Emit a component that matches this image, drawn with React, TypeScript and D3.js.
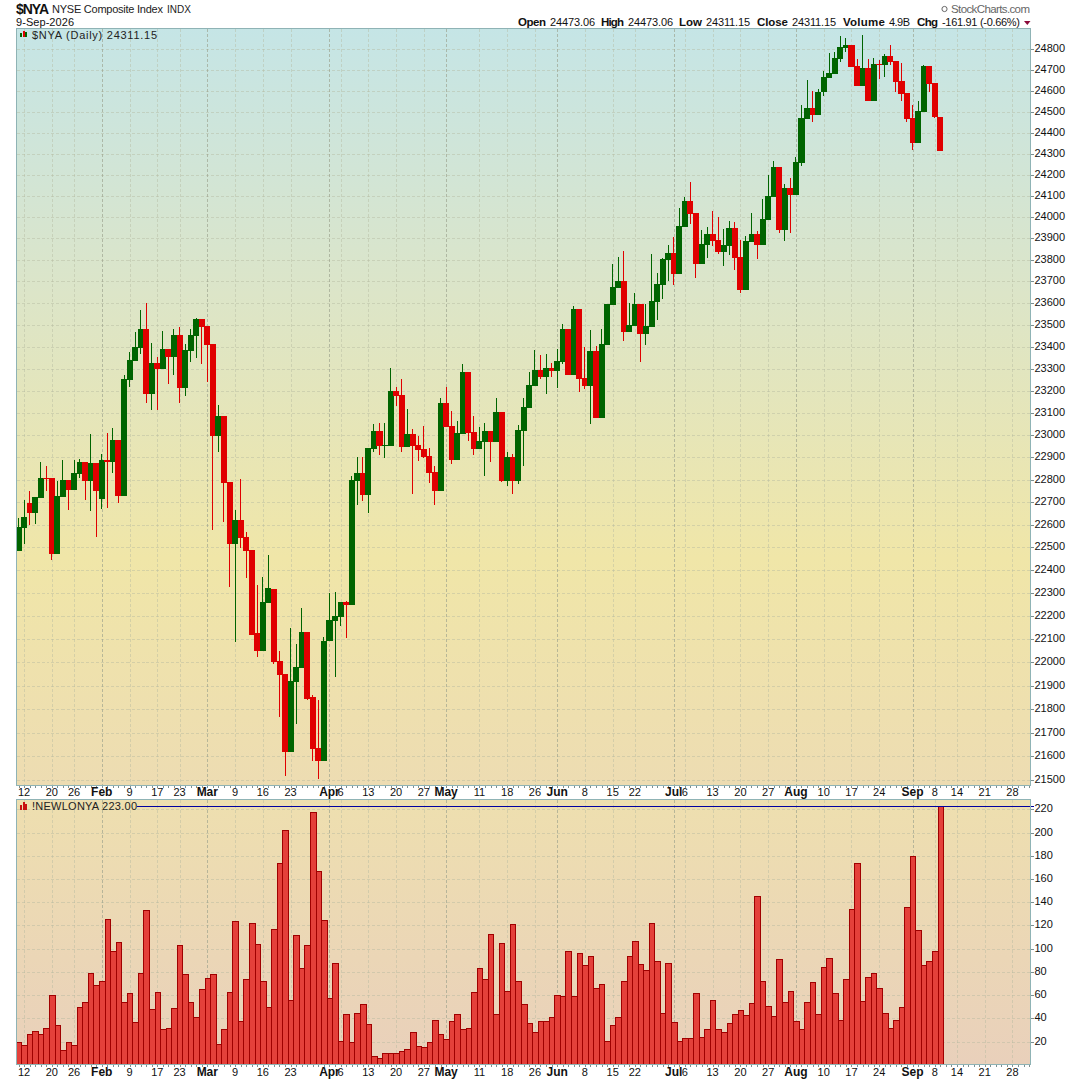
import React from "react";
import * as d3 from "d3";

const opens = [22482,22587,22697,22652,22719,22808,22808,22472,22724,22800,
22755,22826,22880,22795,22875,22715,22888,22880,22977,22728,
23250,23336,23395,23481,23186,23327,23300,23390,23354,23454,
23213,23381,23450,23527,23495,23413,22995,23084,22790,22514,
22621,22546,22489,22125,22051,22257,22317,22004,21948,21618,
21914,21974,22133,21850,21635,21579,22090,22180,22197,22261,
22249,22795,22830,22732,22937,23018,22950,22950,23200,23182,
22946,23005,22955,22937,22906,22835,22750,23145,23041,22888,
23005,23286,23014,22937,22968,23018,22968,23104,22795,22902,
22795,23018,23122,23222,23295,23263,23304,23290,23331,23481,
23272,23574,23258,23222,23381,23077,23409,23592,23671,23704,
23468,23495,23597,23459,23490,23606,23685,23801,23834,23736,
23954,24077,24020,23782,23871,23922,23894,23838,23866,23950,
23815,23662,23885,23922,23871,23987,24096,24234,23940,24139,
24105,24253,24463,24515,24482,24592,24663,24682,24754,24806,
24820,24720,24625,24711,24549,24730,24725,24768,24744,24649,
24587,24468,24349,24496,24720,24639,24473.06];
const highs = [22630,22710,22750,22724,22880,22862,22808,22795,22888,22800,
22888,22893,22880,23004,22875,22915,23008,23031,22977,23272,
23377,23468,23568,23600,23418,23354,23472,23390,23481,23490,
23413,23481,23531,23527,23495,23413,23136,23084,22790,22666,
22804,22568,22489,22334,22369,22467,22317,22051,21948,22150,
22077,22236,22133,21862,21837,22111,22300,22304,22261,22266,
22817,22902,22902,22942,23050,23055,23055,23304,23218,23254,
23118,23027,22995,23041,22942,22862,23168,23218,23109,23064,
23322,23286,23086,23036,23055,23018,23168,23104,22924,22915,
23045,23168,23286,23386,23363,23368,23327,23390,23504,23481,
23588,23574,23399,23477,23404,23481,23597,23783,23815,23843,
23601,23648,23597,23597,23829,23741,23810,23871,23908,24042,
24096,24163,24020,23940,23954,24030,24000,23945,23982,23977,
23894,23912,24020,23936,24086,24196,24263,24234,24158,24186,
24282,24530,24654,24601,24606,24697,24782,24787,24863,24854,
24820,24754,24868,24754,24758,24749,24778,24820,24744,24735,
24587,24530,24549,24725,24720,24639,24473.06];
const lows = [22482,22515,22600,22604,22719,22750,22446,22472,22724,22666,
22755,22808,22710,22661,22545,22670,22675,22830,22697,22728,
23218,23336,23368,23145,23110,23114,23300,23232,23272,23145,
23177,23332,23350,23322,23241,22577,22924,22612,22326,22089,
22497,22364,22116,22021,22051,22257,21991,21768,21515,21618,
21738,21974,21837,21579,21506,21579,22090,21936,22158,22103,
22249,22688,22706,22652,22924,22911,22897,22950,23132,22924,
22946,22737,22884,22897,22786,22688,22750,23036,22870,22888,
23005,22973,22911,22937,22817,22879,22968,22790,22773,22737,
22782,22862,23122,23222,23254,23186,23263,23213,23322,23272,
23272,23195,23209,23050,23077,23077,23409,23592,23671,23427,
23468,23495,23332,23409,23490,23523,23620,23704,23685,23736,
23954,23968,23718,23782,23810,23866,23829,23773,23825,23755,
23648,23662,23885,23806,23871,23987,24096,23926,23890,23926,
24105,24239,24463,24449,24482,24573,24663,24682,24739,24787,
24716,24625,24625,24549,24549,24658,24668,24725,24596,24549,
24449,24315,24349,24496,24592,24468,24311.15];
const closes = [22590,22635,22652,22724,22808,22804,22472,22728,22800,22755,
22830,22880,22795,22875,22750,22888,22880,22977,22728,23254,
23341,23400,23481,23186,23327,23300,23390,23354,23454,23213,
23386,23454,23527,23490,23409,22995,23084,22786,22514,22621,
22541,22485,22120,22051,22261,22322,22000,21944,21618,21918,
21978,22133,21845,21631,21579,22094,22184,22201,22261,22249,
22800,22830,22732,22942,23018,22950,22955,23200,23177,22946,
23005,22950,22933,22902,22830,22750,23145,23036,22888,23009,
23286,23009,22937,22973,23018,22968,23104,22795,22902,22795,
23022,23127,23227,23295,23263,23304,23290,23336,23481,23272,
23574,23254,23222,23381,23077,23413,23597,23676,23704,23468,
23500,23597,23459,23495,23611,23690,23806,23834,23736,23959,
24077,24015,23782,23875,23922,23889,23838,23871,23950,23811,
23662,23889,23922,23871,23992,24101,24234,23940,24139,24105,
24258,24468,24515,24482,24596,24668,24687,24758,24811,24820,
24716,24625,24711,24549,24730,24725,24768,24739,24644,24582,
24463,24349,24501,24720,24634,24473,24311.15];
const newHighs = [20,17,27,29,27,32,60,34,13,20,
17,50,54,79,69,72,126,98,106,54,
62,37,79,133,48,63,31,32,49,103,
78,54,41,65,75,78,18,31,63,124,
38,74,122,104,72,50,117,174,202,56,
112,83,103,218,167,125,58,88,21,44,
20,45,52,35,8,6,10,10,10,12,
14,28,16,15,20,39,27,22,38,44,
31,32,63,83,74,113,44,105,64,121,
72,52,36,28,38,38,41,60,59,98,
59,96,86,94,66,70,21,34,41,72,
94,107,87,82,122,89,45,88,37,21,
23,23,62,24,31,56,31,28,36,44,
47,43,53,145,72,51,42,91,54,64,
38,31,54,71,44,84,92,62,39,74,
134,174,55,76,79,66,45,32,39,50,
136,180,116,86,89,98,223];

// session index and label of every date tick; capitalised = first session of a month
const tickIndex = [1,6,10,15,20,25,29,34,39,44,49,56,58,63,68,73,77,83,88,93,97,102,107,111,118,120,125,130,135,140,145,150,155,161,165,169,174,179];
const tickLabel = ["12","20","26","Feb","9","17","23","Mar","9","16","23","Apr","6","13","20","27","May","11","18","26","Jun","8","15","22","Jul","6","13","20","27","Aug","10","17","24","Sep","8","14","21","28"];
const priceTicks = d3.range(21500, 24801, 100);
const countTicks = d3.range(20, 221, 20);
const lastCount = 223;

const quoteLabels = ["Open", "High", "Low", "Close", "Volume", "Chg"];
const quoteValues = ["24473.06", "24473.06", "24311.15", "24311.15", "4.9B", "-161.91 (-0.66%)"];

const FONT = "'Liberation Sans', Arial, sans-serif";
const L = 16.5, R = 1030.5, T1 = 28.5, B1 = 785.5, T2 = 799.5, B2 = 1064.5;
const UP = "#006400", DOWN = "#e00000", GRID = "#b3b7a0", BORDER = "#8fb3b5";

const x = d3.scaleLinear().domain([0, 166]).range([18.5, 940.3]);
const yP = d3.scaleLog().domain([24800, 21500]).range([49.3, 780]);
const yN = d3.scaleLinear().domain([0, 220]).range([1064.9, 809.3]);
const half = (x(1) - x(0)) / 2;

// header slots: [label left, label right, value left, value right]
const quoteSlots = [
  [518, 546, 550, 595],
  [601, 624, 628, 673],
  [679, 702, 706, 750],
  [757, 788, 792, 836],
  [843, 885, 889, 910],
  [917, 938, 942, 1020],
];

function Grid({ top, bottom, ys }: { top: number; bottom: number; ys: number[] }) {
  return (
    <g shapeRendering="crispEdges" fill="none">
      {ys.map((y, i) => (
        <line key={i} x1={L} x2={R} y1={Math.round(y) + 0.5} y2={Math.round(y) + 0.5} stroke={GRID} strokeOpacity={0.45} strokeDasharray="3 2" />
      ))}
      {tickIndex.map((t, i) => {
        const major = /[A-Z]/.test(tickLabel[i]);
        return (
          <line key={i} x1={Math.round(x(t)) + 0.5} x2={Math.round(x(t)) + 0.5} y1={top} y2={bottom}
            stroke={major ? "#9aa08c" : GRID} strokeOpacity={major ? 0.65 : 0.45} strokeDasharray="3 2" />
        );
      })}
    </g>
  );
}

function DateAxis({ y, base }: { y: number; base: number }) {
  return (
    <g>
      <g shapeRendering="crispEdges" stroke="#7d8f90">
        {d3.range(0, 183).map((d) => (
          <line key={d} x1={Math.round(x(d)) + 0.5} x2={Math.round(x(d)) + 0.5} y1={y} y2={y + 2} />
        ))}
      </g>
      {tickIndex.map((t, i) => {
        const major = /[A-Z]/.test(tickLabel[i]);
        return (
          <text key={i} x={x(t)} y={base} textAnchor="middle" fontFamily={FONT}
            fontSize={major ? 12 : 11} fontWeight={major ? 700 : 400} fill="#111">{tickLabel[i]}</text>
        );
      })}
    </g>
  );
}

export default function App() {
  return (
    <svg width={1080} height={1080} viewBox="0 0 1080 1080" style={{ position: "absolute", left: 0, top: 0, background: "#fff" }}>
      <defs>
        <linearGradient id="g1" x1="0" y1="0" x2="0" y2="1">
          <stop offset="0" stopColor="#c5e5e6" />
          <stop offset="0.35" stopColor="#dce5c8" />
          <stop offset="0.7" stopColor="#f0e6a8" />
          <stop offset="1" stopColor="#eddcb2" />
        </linearGradient>
        <linearGradient id="g2" x1="0" y1="0" x2="0" y2="1">
          <stop offset="0" stopColor="#eedfaf" />
          <stop offset="1" stopColor="#e9d0bb" />
        </linearGradient>
        <clipPath id="c1"><rect x={L} y={T1} width={R - L} height={B1 - T1} /></clipPath>
        <clipPath id="c2"><rect x={L} y={T2} width={R - L} height={B2 - T2} /></clipPath>
      </defs>

      {/* header */}
      <text x={16} y={14} fontFamily={FONT} fontSize={14} fontWeight={700} fill="#111" textLength={33}>$NYA</text>
      <text x={52} y={13} fontFamily={FONT} fontSize={11} fill="#222" textLength={111}>NYSE Composite Index</text>
      <text x={167} y={13} fontFamily={FONT} fontSize={10} fill="#222" textLength={24}>INDX</text>
      <text x={16} y={26} fontFamily={FONT} fontSize={11} fill="#111" textLength={58}>9-Sep-2026</text>
      <circle cx={944.5} cy={9} r={2.6} fill="none" stroke="#666" strokeWidth={1} />
      <text x={951} y={13} fontFamily={FONT} fontSize={11.5} fill="#666" textLength={79}>StockCharts.com</text>
      {quoteLabels.map((q, i) => (
        <g key={q} fontFamily={FONT} fill="#111">
          <text x={quoteSlots[i][0]} y={26} fontSize={11.5} fontWeight={700} textLength={quoteSlots[i][1] - quoteSlots[i][0]}>{q}</text>
          <text x={quoteSlots[i][2]} y={26} fontSize={11} textLength={quoteSlots[i][3] - quoteSlots[i][2]}>{quoteValues[i]}</text>
        </g>
      ))}
      <path d="M1024 21h6.5l-3.2 4z" fill="#8b0a3a" />

      {/* price panel */}
      <rect x={L} y={T1} width={R - L} height={B1 - T1} fill="url(#g1)" />
      <Grid top={T1} bottom={B1} ys={priceTicks.map((v) => yP(v))} />
      <g clipPath="url(#c1)" shapeRendering="crispEdges">
        {closes.map((c, i) => {
          const color = c >= opens[i] ? UP : DOWN;
          const cx = x(i);
          const top = Math.round(yP(Math.max(c, opens[i])));
          const bot = Math.round(yP(Math.min(c, opens[i])));
          const l = Math.round(cx - half - 0.2);
          const r = Math.round(cx + half + 0.3);
          return (
            <g key={i} fill={color}>
              <rect x={Math.floor(cx)} y={yP(highs[i])} width={1} height={yP(lows[i]) - yP(highs[i])} />
              <rect x={l} y={top} width={r - l} height={Math.max(1, bot - top)} />
            </g>
          );
        })}
      </g>
      <rect x={L} y={T1} width={R - L} height={B1 - T1} fill="none" stroke={BORDER} shapeRendering="crispEdges" />
      <g shapeRendering="crispEdges" fill={UP}>
        <rect x={20} y={33} width={2} height={4} /><rect x={25} y={32} width={2} height={5} />
      </g>
      <rect x={22.5} y={31} width={2} height={6} fill={DOWN} shapeRendering="crispEdges" />
      <text x={32} y={39} fontFamily={FONT} fontSize={11} fill="#222" textLength={125}>$NYA (Daily) 24311.15</text>
      <g fontFamily={FONT} fontSize={11} fill="#111">
        {priceTicks.map((v) => (
          <text key={v} x={1034.5} y={yP(v) + 3}>{v}</text>
        ))}
      </g>
      <g shapeRendering="crispEdges" stroke="#7d8f90">
        {priceTicks.map((v) => (
          <line key={v} x1={R} x2={R + 3} y1={Math.round(yP(v)) + 0.5} y2={Math.round(yP(v)) + 0.5} />
        ))}
      </g>
      <DateAxis y={B1} base={796} />

      {/* new highs panel */}
      <rect x={L} y={T2} width={R - L} height={B2 - T2} fill="url(#g2)" />
      <Grid top={T2} bottom={B2} ys={countTicks.map((v) => yN(v))} />
      <g clipPath="url(#c2)" shapeRendering="crispEdges">
        {newHighs.map((v, i) => {
          const l = Math.round(x(i) - half);
          const r = Math.round(x(i) + half);
          return <rect key={i} x={l + 0.5} y={Math.round(yN(v)) + 0.5} width={r - l} height={B2 - Math.round(yN(v)) - 0.5} fill="#e4403a" stroke="#a00000" />;
        })}
      </g>
      <line x1={137} x2={R + 3} y1={Math.round(yN(lastCount)) + 0.5} y2={Math.round(yN(lastCount)) + 0.5} stroke="#0000a0" strokeWidth={1} shapeRendering="crispEdges" />
      <rect x={L} y={T2} width={R - L} height={B2 - T2} fill="none" stroke={BORDER} shapeRendering="crispEdges" />
      <g shapeRendering="crispEdges" fill="#c81010">
        <rect x={20} y={805} width={2} height={5} /><rect x={22.5} y={802} width={2} height={8} /><rect x={25} y={804} width={2} height={6} />
      </g>
      <text x={32} y={810} fontFamily={FONT} fontSize={11} fill="#222" textLength={105}>!NEWLONYA 223.00</text>
      <g fontFamily={FONT} fontSize={11} fill="#111">
        {countTicks.map((v) => (
          <text key={v} x={1034.5} y={yN(v) + 3}>{v}</text>
        ))}
      </g>
      <g shapeRendering="crispEdges" stroke="#7d8f90">
        {countTicks.map((v) => (
          <line key={v} x1={R} x2={R + 3} y1={Math.round(yN(v)) + 0.5} y2={Math.round(yN(v)) + 0.5} />
        ))}
      </g>
      <DateAxis y={B2} base={1076} />
    </svg>
  );
}
